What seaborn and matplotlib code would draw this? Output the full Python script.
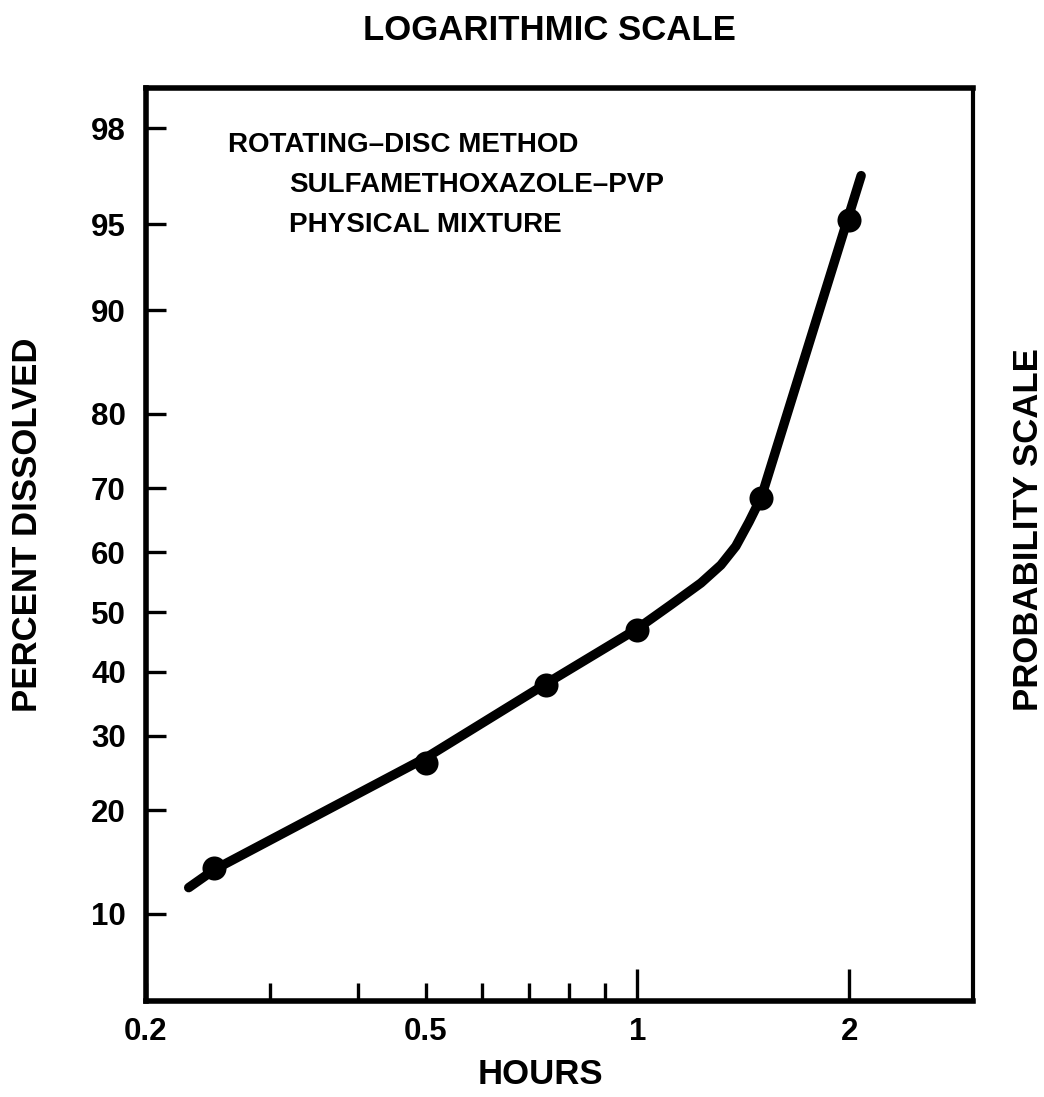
import numpy as np
import pandas as pd
import matplotlib
matplotlib.use("Agg")
import matplotlib.pyplot as plt
import seaborn as sns
from statistics import NormalDist

# ---- data ----
hours = [0.25, 0.5, 0.74, 1.0, 1.5, 2.0]
percent_dissolved = [13.9, 26.1, 37.8, 47.0, 68.6, 95.2]

curve_hours = [0.23, 0.25, 0.5, 0.75, 1.0, 1.115, 1.231, 1.314, 1.38, 1.441, 1.5, 2.08]
curve_percent = [12.1, 13.7, 26.8, 38.4, 47.2, 51.2, 54.9, 57.9, 61.0, 64.9, 68.7, 96.8]

y_ticks = [10, 20, 30, 40, 50, 60, 70, 80, 90, 95, 98]
y_tick_labels = ["10", "20", "30", "40", "50", "60", "70", "80", "90", "95", "98"]
x_major_ticks = [1, 2]
x_major_labels = ["1", "2"]
x_minor_ticks = [0.2, 0.3, 0.4, 0.5, 0.6, 0.7, 0.8, 0.9]
x_minor_labels = ["0.2", "", "", "0.5", "", "", "", ""]

# ---- probability (normal quantile) scale ----
_nd = NormalDist()
_ppf = np.vectorize(_nd.inv_cdf, otypes=[float])
_cdf = np.vectorize(_nd.cdf, otypes=[float])


def prob_forward(p):
    p = np.asarray(p, dtype=float)
    q = np.clip(p / 100.0, 1e-9, 1 - 1e-9)
    return _ppf(q)


def prob_inverse(z):
    z = np.asarray(z, dtype=float)
    return 100.0 * _cdf(z)


sns.set_style("white")
plt.rcParams["font.family"] = ["Liberation Sans", "DejaVu Sans"]
plt.rcParams["font.weight"] = "bold"
plt.rcParams["text.color"] = "black"
plt.rcParams["axes.labelcolor"] = "black"
plt.rcParams["xtick.color"] = "black"
plt.rcParams["ytick.color"] = "black"
plt.rcParams["axes.edgecolor"] = "black"

W, H = 1044, 1097
fig = plt.figure(figsize=(W / 100, H / 100), dpi=100)
fig.patch.set_facecolor("white")

left, right, top, bottom = 146, 973, 88, 1001
ax = fig.add_axes([left / W, 1 - bottom / H, (right - left) / W, (bottom - top) / H])
ax.set_facecolor("white")
ax.set_xscale("log")
ax.set_yscale("function", functions=(prob_forward, prob_inverse))

curve_df = pd.DataFrame({"hours": curve_hours, "percent": curve_percent})
pts_df = pd.DataFrame({"hours": hours, "percent": percent_dissolved})

sns.lineplot(data=curve_df, x="hours", y="percent", sort=False, estimator=None,
             color="black", linewidth=6.8, solid_capstyle="round",
             solid_joinstyle="round", ax=ax)
sns.scatterplot(data=pts_df, x="hours", y="percent", s=300, color="black",
                edgecolor="black", linewidth=0, ax=ax, zorder=3)

ax.set_xlim(0.2, 3.0)
ax.set_ylim(prob_inverse((612 - bottom) / 235.6), prob_inverse((612 - top) / 235.6))

ax.set_yticks(y_ticks, labels=y_tick_labels)
ax.set_yticks([], minor=True)
ax.set_xticks(x_major_ticks, labels=x_major_labels)
ax.set_xticks(x_minor_ticks, labels=x_minor_labels, minor=True)

ax.tick_params(axis="y", which="major", direction="in", length=14.5, width=2.4,
               pad=14.5, labelsize=22.5, color="black", labelcolor="black",
               left=True, right=False)
ax.tick_params(axis="x", which="major", direction="in", length=23, width=2.4,
               pad=11.5, labelsize=22.5, color="black", labelcolor="black",
               bottom=True, top=False)
ax.tick_params(axis="x", which="minor", direction="in", length=13, width=2.4,
               pad=11.5, labelsize=22.5, color="black", labelcolor="black",
               bottom=True, top=False)
for lab in ax.get_xticklabels(which="both") + ax.get_yticklabels():
    lab.set_fontweight("bold")

ax.set_xlabel("")
ax.set_ylabel("")

for name, sp in ax.spines.items():
    sp.set_visible(True)
    sp.set_color("black")
    sp.set_linewidth(4.0 if name != "right" else 3.0)

# ---- texts ----
fig.text(549 / W, 1 - 30 / H, "LOGARITHMIC SCALE", ha="center", va="center",
         fontsize=25, fontweight="bold", color="black")
fig.text(540 / W, 1 - 1075 / H, "HOURS", ha="center", va="center",
         fontsize=25, fontweight="bold", color="black")
fig.text(28 / W, 1 - 525 / H, "PERCENT DISSOLVED", ha="center", va="center",
         rotation=90, fontsize=25, fontweight="bold", color="black")
fig.text(1029 / W, 1 - 530 / H, "PROBABILITY SCALE", ha="center", va="center",
         rotation=90, fontsize=25, fontweight="bold", color="black")

fig.text(228 / W, 1 - 152 / H, "ROTATING\u2013DISC METHOD", ha="left",
         va="baseline", fontsize=20, fontweight="bold", color="black")
fig.text(289 / W, 1 - 192 / H, "SULFAMETHOXAZOLE\u2013PVP", ha="left",
         va="baseline", fontsize=20, fontweight="bold", color="black")
fig.text(289 / W, 1 - 232 / H, "PHYSICAL MIXTURE", ha="left",
         va="baseline", fontsize=20, fontweight="bold", color="black")

fig.savefig("out.png", dpi=100, facecolor="white")
